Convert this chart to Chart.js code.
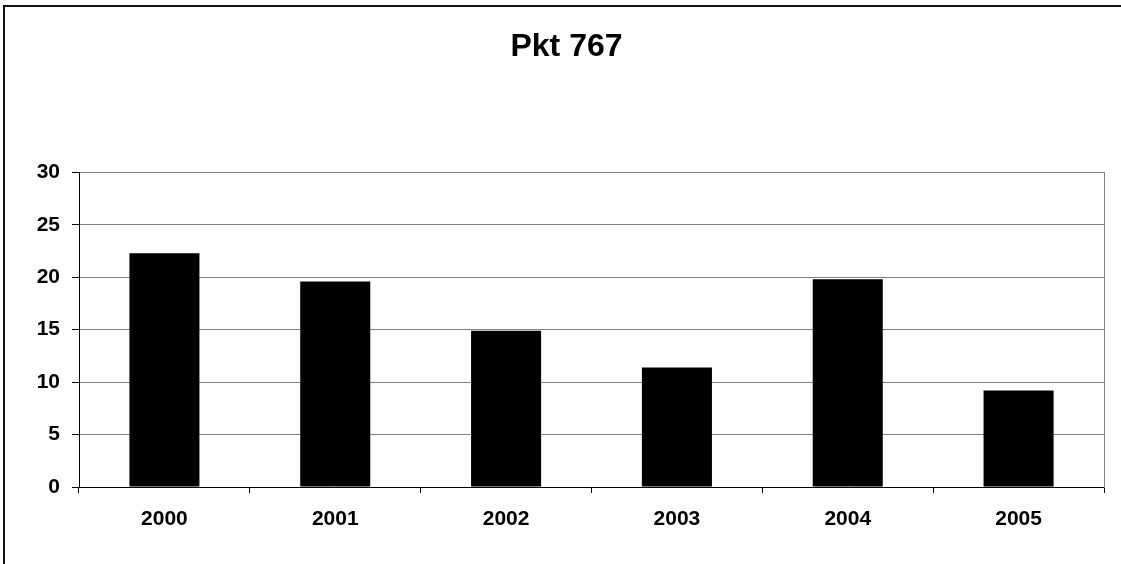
<!DOCTYPE html>
<html>
<head>
<meta charset="utf-8">
<script src="https://cdn.jsdelivr.net/npm/chart.js@4.4.0/dist/chart.umd.min.js"></script>
<style>
    html, body { margin: 0; padding: 0; background: #fff; overflow: hidden; }
    #frame { position: absolute; left: 3px; top: 5px; width: 1200px; height: 700px; border-top: 2px solid #111; border-left: 2px solid #111; }
    #wrap { position: absolute; left: 0; top: 0; width: 1121px; height: 564px; }
</style>
</head>
<body>
<div id="frame"></div>
<div id="wrap"><canvas id="myChart" width="1121" height="564"></canvas></div>
<script>
const years = ['2000', '2001', '2002', '2003', '2004', '2005'];
const values = [22.3, 19.6, 14.9, 11.4, 19.8, 9.2];
const yTicks = [0, 5, 10, 15, 20, 25, 30];
const titleText = 'Pkt 767';

Chart.defaults.font.family = '"Liberation Sans", Arial, sans-serif';
Chart.defaults.color = '#000';

const ctx = document.getElementById('myChart');

const chart = new Chart(ctx, {
    type: 'bar',
    data: {
        labels: years,
        datasets: [
            {
                data: values,
                backgroundColor: '#000',
                borderWidth: 0,
                barPercentage: 0.41,
                categoryPercentage: 1,
            },
        ],
    },
    options: {
        responsive: false,
        animation: false,
        // left padding only shifts the title centre, axes are pinned with afterFit
        layout: { padding: { left: 12, right: 0, top: 0, bottom: 0 } },
        plugins: {
            legend: { display: false },
            tooltip: { enabled: false },
            title: {
                display: true,
                text: titleText,
                font: { size: 32, weight: 'bold' },
                padding: { top: 28, bottom: 106 },
            },
        },
        scales: {
            x: {
                offset: true,
                grid: {
                    offset: true,
                    drawOnChartArea: false,
                    tickLength: 6,
                    color: '#000',
                },
                border: { color: '#000', width: 1 },
                ticks: {
                    padding: 14,
                    font: { size: 21, weight: 'bold' },
                },
                afterFit: (scale) => { scale.height = 77; },
            },
            y: {
                min: yTicks[0],
                max: yTicks[yTicks.length - 1],
                afterBuildTicks: (scale) => { scale.ticks = yTicks.map((v) => ({ value: v })); },
                grid: {
                    color: '#808080',
                    tickColor: '#000',
                    tickLength: 7,
                },
                border: { color: '#000', width: 1 },
                ticks: {
                    padding: 12,
                    font: { size: 21, weight: 'bold' },
                },
                afterFit: (scale) => { scale.width = 67; },
            },
            y2: {
                position: 'right',
                min: 0,
                max: 30,
                grid: { display: false },
                ticks: { display: false },
                border: { color: '#808080', width: 1 },
                afterFit: (scale) => { scale.width = 17; },
            },
        },
    },
});
</script>
</body>
</html>
